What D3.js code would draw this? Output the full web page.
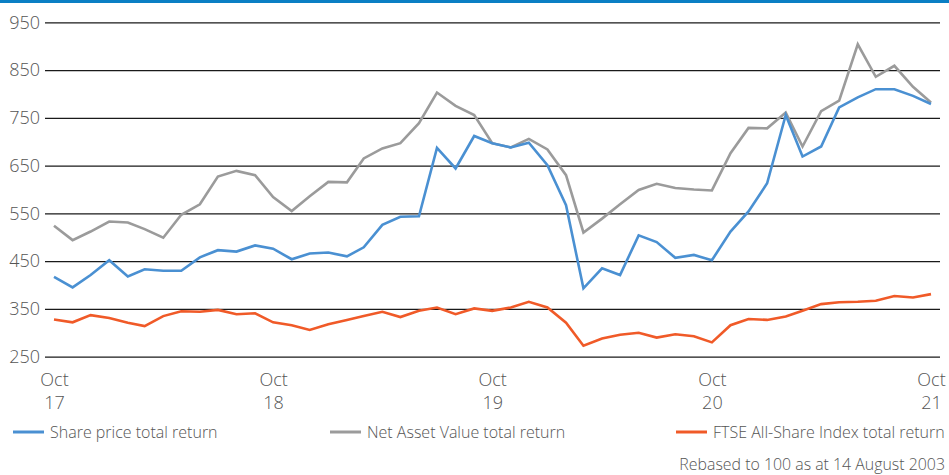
<!DOCTYPE html>
<html>
<head>
<meta charset="utf-8">
<script src="https://cdn.jsdelivr.net/npm/d3@7"></script>
<style>
  html, body { margin: 0; padding: 0; background: #fff; }
  svg { display: block; font-family: "Open Sans", sans-serif; }
</style>
</head>
<body>
<svg id="chart" width="949" height="475"></svg>
<script>
// ---- data ----
const startMonth = new Date(2017, 9, 1);   // Oct 2017
const endMonth = new Date(2021, 10, 1);    // exclusive -> last = Oct 2021
const months = d3.timeMonth.range(startMonth, endMonth);

const sharePrice = [417,395,421,452,418,433,430,430,458,473,470,483,476,454,466,468,460,479,526,543,544,687,644,712,697,688,698,651,567,393,435,421,504,490,457,463,452,512,554,613,756,669,690,772,793,810,810,796,779];
const nav = [524,494,512,533,531,517,499,547,569,627,639,630,584,555,586,616,615,665,686,697,739,803,775,756,697,688,706,684,630,510,539,569,599,612,603,600,598,676,729,728,761,690,764,786,904,836,859,815,782];
const ftse = [328,322,337,331,321,314,335,345,344,348,339,341,322,316,306,318,327,335,344,333,346,353,339,351,346,353,365,353,321,273,288,296,300,290,297,293,280,316,329,327,334,346,360,364,365,367,377,374,381];

const yTicks = [250,350,450,550,650,750,850,950];
const xTickDates = [new Date(2017,9,1), new Date(2018,9,1), new Date(2019,9,1), new Date(2020,9,1), new Date(2021,9,1)];
const seriesNames = ["Share price total return", "Net Asset Value total return", "FTSE All-Share Index total return"];
const seriesColors = ["#4a90d2", "#9b9b9b", "#f05a28"];
const footnote = "Rebased to 100 as at 14 August 2003";

// ---- drawing ----
const svg = d3.select("#chart");
const W = 949;

svg.append("rect").attr("x", 0).attr("y", 0).attr("width", W).attr("height", 3).attr("fill", "#0a7fc4");

const x = d3.scaleTime().domain([months[0], months[months.length - 1]]).range([54, 931]);
const y = d3.scaleLinear().domain([250, 950]).range([356.7, 22.3]);

const gridLeft = 45, gridRight = 940;

const yAxis = svg.append("g")
  .attr("transform", `translate(${gridLeft},0)`)
  .call(d3.axisLeft(y).tickValues(yTicks).tickSize(-(gridRight - gridLeft)).tickPadding(5).tickFormat(d3.format("d")));
yAxis.select(".domain").remove();
yAxis.selectAll(".tick line").attr("stroke", "#1a1a1a").attr("stroke-width", 1.2);
yAxis.selectAll(".tick text")
  .attr("fill", "#555").attr("font-size", 18).attr("font-weight", 300)
  .attr("font-family", "'Open Sans', sans-serif");

const xAxis = svg.append("g")
  .attr("transform", `translate(0,365)`)
  .call(d3.axisBottom(x).tickValues(xTickDates).tickSize(0).tickPadding(0).tickFormat(() => ""));
xAxis.select(".domain").remove();
xAxis.selectAll(".tick text").each(function(d) {
  const t = d3.select(this);
  t.text(null).attr("fill", "#555").attr("font-size", 18).attr("font-weight", 300)
   .attr("font-family", "'Open Sans', sans-serif").attr("dy", null).attr("y", 0);
  t.append("tspan").attr("x", 0).attr("y", 21).text(d3.timeFormat("%b")(d));
  t.append("tspan").attr("x", 0).attr("y", 44).text(d3.timeFormat("%y")(d));
});

const line = d3.line().x((d, i) => x(months[i])).y(d => y(d));
const allSeries = [sharePrice, nav, ftse];
const drawOrder = [1, 0, 2];
drawOrder.forEach(k => {
  svg.append("path").datum(allSeries[k])
    .attr("fill", "none").attr("stroke", seriesColors[k]).attr("stroke-width", 2.6)
    .attr("stroke-linejoin", "miter").attr("d", line);
});

// legend
const legendX = [13, 330, 676];
seriesNames.forEach((name, k) => {
  const g = svg.append("g").attr("transform", `translate(${legendX[k]},432)`);
  g.append("line").attr("x1", 0).attr("x2", 31).attr("y1", 0).attr("y2", 0)
    .attr("stroke", seriesColors[k]).attr("stroke-width", 3);
  g.append("text").attr("x", 37).attr("y", 6).attr("fill", "#555")
    .attr("font-size", 16).attr("font-weight", 300).text(name);
});

svg.append("text").attr("x", 945).attr("y", 470).attr("text-anchor", "end")
  .attr("fill", "#555").attr("font-size", 15.9).attr("font-weight", 300).text(footnote);
</script>
</body>
</html>
